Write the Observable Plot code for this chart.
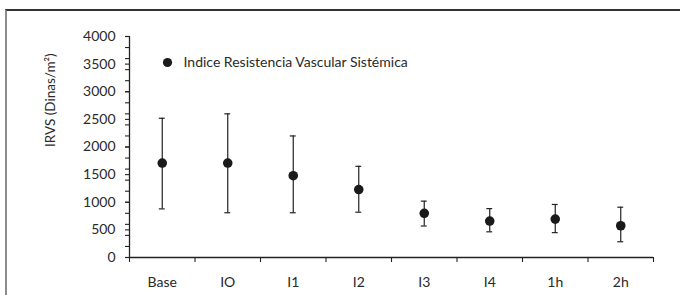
<!DOCTYPE html>
<html>
<head>
<meta charset="utf-8">
<script src="https://cdn.jsdelivr.net/npm/d3@7"></script>
<script src="https://cdn.jsdelivr.net/npm/@observablehq/plot@0.6"></script>
<style>
  html, body { margin: 0; padding: 0; background: #fff; }
  #wrap { position: relative; width: 680px; height: 295px; overflow: hidden; }
  #border { position: absolute; left: 5px; top: 9px; width: 700px; height: 300px;
            border-left: 2px solid #8c8c8c; border-top: 2px solid #333; box-sizing: border-box; }
  #chart { position: absolute; left: 0; top: 0; }
</style>
</head>
<body>
<div id="wrap"><div id="border"></div><div id="chart"></div></div>
<script>
const categories = ["Base", "IO", "I1", "I2", "I3", "I4", "1h", "2h"];
const means = [1710, 1710, 1480, 1230, 800, 660, 695, 575];
const lows  = [880, 810, 810, 820, 570, 465, 450, 285];
const highs = [2520, 2600, 2200, 1650, 1020, 885, 960, 910];
const yTicks = [0, 500, 1000, 1500, 2000, 2500, 3000, 3500, 4000];
const yMinorTicks = [0, 200, 400, 600, 800, 1000, 1200, 1400, 1600, 1800, 2000, 2200, 2400, 2600, 2800, 3000, 3200, 3400, 3600, 3800, 4000];
const seriesName = "Indice Resistencia Vascular Sistémica";
const yLabel = "IRVS (Dinas/m²)";

const data = categories.map((c, i) => ({i, c, mean: means[i], lo: lows[i], hi: highs[i]}));
const centers = categories.map((c, i) => i);
const bounds = categories.map((c, i) => i - 0.5).concat([categories.length - 0.5]);
const capHalf = 0.045;
const ink = "#222";
const textInk = "#2a2a2a";

const chart = Plot.plot({
  width: 680,
  height: 295,
  marginLeft: 129,
  marginRight: 27,
  marginTop: 36,
  marginBottom: 38,
  style: {fontFamily: "Lato", fontSize: "14px", color: textInk, background: "transparent", overflow: "visible"},
  x: {type: "linear", domain: [-0.5, categories.length - 0.5], axis: null},
  y: {domain: [0, 4000], axis: null},
  marks: [
    Plot.axisY({ticks: yMinorTicks, tickSize: 4, tickFormat: () => "", label: null, stroke: ink, strokeWidth: 1.1}),
    Plot.axisY({ticks: yTicks, tickSize: 4, tickPadding: 10, tickFormat: d3.format("d"), label: null, stroke: ink, strokeWidth: 1.1}),
    Plot.axisX({ticks: bounds, tickSize: 5, tickFormat: () => "", label: null, stroke: ink, strokeWidth: 1.1}),
    Plot.axisX({ticks: centers, tickSize: 0, tickPadding: 20, tickFormat: i => categories[i], label: null}),
    Plot.ruleY([0], {stroke: ink, strokeWidth: 1.3}),
    Plot.ruleX([-0.5], {stroke: ink, strokeWidth: 1.3}),
    Plot.ruleX(data, {x: "i", y1: "lo", y2: "hi", stroke: ink, strokeWidth: 1.2}),
    Plot.ruleY(data, {y: "hi", x1: d => d.i - capHalf, x2: d => d.i + capHalf, stroke: ink, strokeWidth: 1.2}),
    Plot.ruleY(data, {y: "lo", x1: d => d.i - capHalf, x2: d => d.i + capHalf, stroke: ink, strokeWidth: 1.2}),
    Plot.dot(data, {x: "i", y: "mean", r: 4.8, fill: "#1a1a1a"}),
    Plot.text([yLabel], {frameAnchor: "left", dx: -79, rotate: -90, fontSize: 13.5, lineAnchor: "middle", fill: textInk}),
    Plot.dot([seriesName], {frameAnchor: "top-left", dx: 38, dy: 26, r: 4.6, fill: "#1a1a1a"}),
    Plot.text([seriesName], {frameAnchor: "top-left", dx: 54, dy: 26, textAnchor: "start", lineAnchor: "middle", fontSize: 14, fill: textInk})
  ]
});
document.getElementById("chart").appendChild(chart);
</script>
</body>
</html>
